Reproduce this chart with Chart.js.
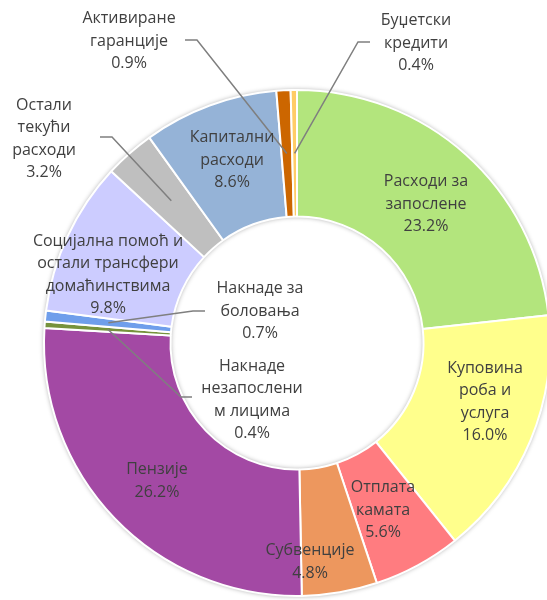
<!DOCTYPE html>
<html><head><meta charset="utf-8">
<script src="https://cdn.jsdelivr.net/npm/chart.js@4/dist/chart.umd.min.js"></script>
<style>
html,body{margin:0;padding:0;background:#fff;overflow:hidden;width:547px;height:600px;}
#wrap{position:relative;width:600px;height:600px;}
</style></head><body>
<div id="wrap"><canvas id="c" width="600" height="600"></canvas></div>
<script>
// ---- data ----
const categories = ['Расходи за запослене','Куповина роба и услуга','Отплата камата','Субвенције','Пензије','Накнаде незапосленим лицима','Накнаде за боловања','Социјална помоћ и остали трансфери домаћинствима','Остали текући расходи','Капитални расходи','Активиране гаранције','Буџетски кредити'];
const labelLines = [['Расходи за','запослене'],['Куповина','роба и','услуга'],['Отплата','камата'],['Субвенције'],['Пензије'],['Накнаде','незапослени','м лицима'],['Накнаде за','боловања'],['Социјална помоћ и','остали трансфери','домаћинствима'],['Остали','текући','расходи'],['Капитални','расходи'],['Активиране','гаранције'],['Буџетски','кредити']];
const shares = [23.2,16.0,5.6,4.8,26.2,0.4,0.7,9.8,3.2,8.6,0.9,0.4];

// ---- styling / layout (not data) ----
const colors = ['#B3E57D','#FFFF8C','#FF7C80','#ED975E','#A349A4','#76923C','#6F9EEB','#CCCCFF','#BFBFBF','#95B3D7','#CC6600','#FFCC66'];
// label block centres relative to the doughnut centre
const labelOffsets = [[129,-139],[188,59],[86,167],[13,219],[-140,138],[-45,57],[-37,-32],[-189,-68],[-253,-204],[-65,-183],[-168,-302],[119,-300]];
// leader lines: two points relative to centre, then the slice mid-ring
const leaders = {10:[[-112,-303],[-100,-303]], 11:[[73,-301],[61,-301]], 8:[[-197,-206],[-185,-206]], 6:[[-92,-32],[-104,-32]], 5:[[-105,54],[-116,54]]};
const LINE_H = 22.5;

const plugin = {
  id:'decor',
  beforeDatasetsDraw(chart){
    const a = chart.getDatasetMeta(0).data[0];
    const ctx = chart.ctx;
    ctx.save();
    ctx.beginPath();
    ctx.arc(a.x,a.y,a.outerRadius,0,Math.PI*2);
    ctx.arc(a.x,a.y,a.innerRadius,0,Math.PI*2,true);
    ctx.fillStyle='#fff';
    ctx.shadowColor='rgba(0,0,0,0.4)';
    ctx.shadowBlur=5;
    ctx.fill('evenodd');
    ctx.restore();
  },
  afterDatasetsDraw(chart){
    const meta = chart.getDatasetMeta(0);
    const ctx = chart.ctx;
    const a0 = meta.data[0];
    const cx=a0.x, cy=a0.y;
    ctx.save();
    // leader lines
    ctx.strokeStyle='#7F7F7F';
    ctx.lineWidth=1.5;
    Object.keys(leaders).forEach(k=>{
      const arc = meta.data[k];
      const mid=(arc.startAngle+arc.endAngle)/2;
      const r=(arc.innerRadius+arc.outerRadius)/2;
      const pts=leaders[k];
      ctx.beginPath();
      ctx.moveTo(cx+pts[0][0],cy+pts[0][1]);
      ctx.lineTo(cx+pts[1][0],cy+pts[1][1]);
      ctx.lineTo(cx+Math.cos(mid)*r,cy+Math.sin(mid)*r);
      ctx.stroke();
    });
    // labels
    ctx.font='16px "Open Sans"';
    ctx.fillStyle='#404040';
    ctx.textAlign='center';
    ctx.textBaseline='middle';
    labelLines.forEach((lines,i)=>{
      const all = lines.concat([shares[i].toFixed(1)+'%']);
      const [dx,dy]=labelOffsets[i];
      const top = cy+dy-(all.length-1)*LINE_H/2;
      all.forEach((t,j)=>ctx.fillText(t,cx+dx,top+j*LINE_H));
    });
    ctx.restore();
  }
};

new Chart(document.getElementById('c'),{
  type:'doughnut',
  data:{labels:categories,datasets:[{data:shares,backgroundColor:colors,borderColor:'#ffffff',borderWidth:2,hoverBorderWidth:0,hoverOffset:0}]},
  options:{
    responsive:false,animation:false,devicePixelRatio:1,
    cutout:'50%',
    layout:{padding:{left:40,right:46,top:89,bottom:3}},
    plugins:{legend:{display:false},tooltip:{enabled:false}},
    events:[]
  },
  plugins:[plugin]
});
</script>
</body></html>
